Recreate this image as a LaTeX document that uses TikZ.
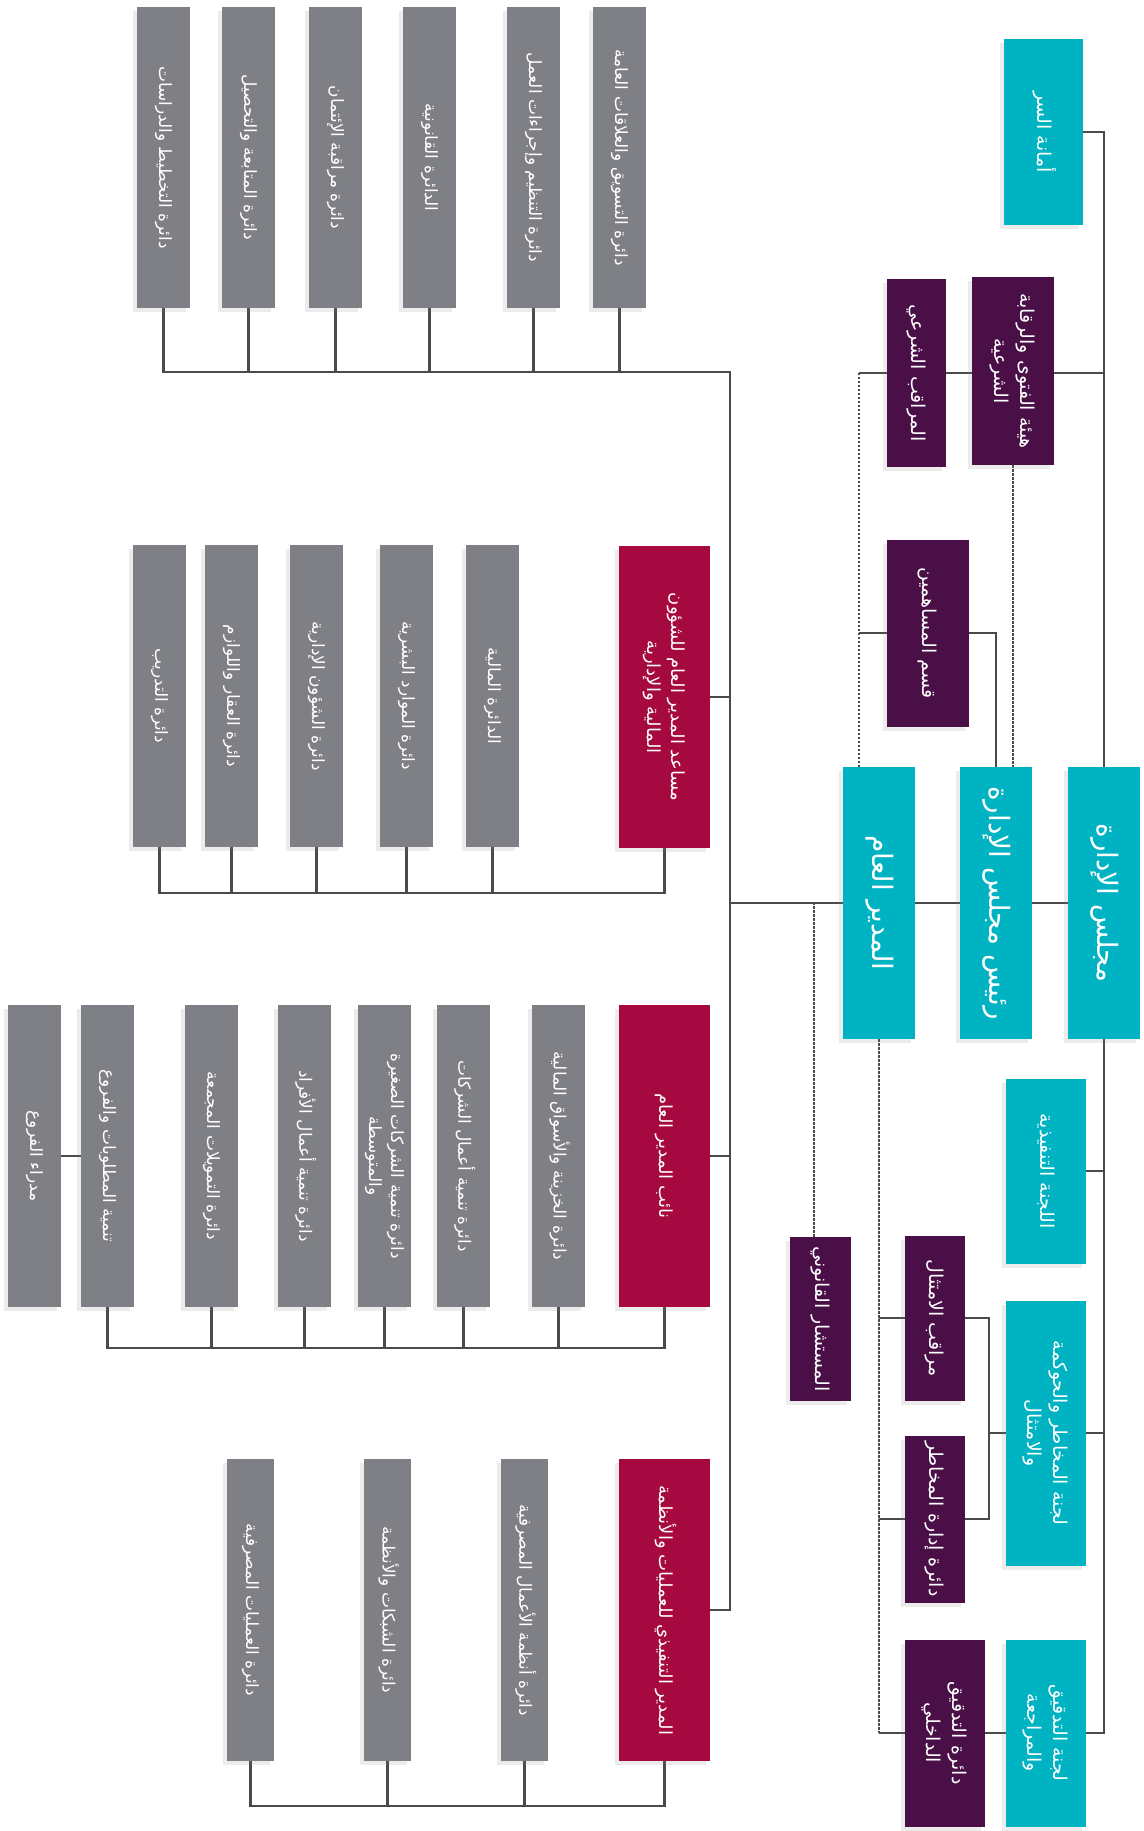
\documentclass[tikz,border=0pt]{standalone}
\usepackage{fontspec}
\usepackage{graphicx}
\usetikzlibrary{shadows}
\newfontfamily\arabicfont[Script=Arabic]{DejaVu Sans}
\TeXXeTstate=1
\definecolor{cyanb}{HTML}{00B3C2}
\definecolor{purpb}{HTML}{4A0F47}
\definecolor{crimb}{HTML}{A6093F}
\definecolor{grayb}{HTML}{7F8085}
\definecolor{linec}{HTML}{4A4A4A}
\newcommand\AR[1]{\beginR #1\endR}
\newcommand\rtxt[1]{\rotatebox{-90}{\arabicfont\begin{tabular}{@{}c@{}}#1\end{tabular}}}
\pgfdeclarelayer{bg}
\pgfdeclarelayer{paper}
\pgfsetlayers{paper,bg,main}
\begin{document}
\begin{tikzpicture}[x=0.5pt,y=-0.5pt,
  sz/.style 2 args={minimum width=#1*0.5pt, minimum height=#2*0.5pt},
  bx/.style={inner sep=0pt, text=white, drop shadow={opacity=0.15, shadow xshift=-2pt, shadow yshift=-2pt}},
  graybx/.style={bx, fill=grayb, font=\fontsize{8.5}{11}\selectfont},
  crimbx/.style={bx, fill=crimb, font=\fontsize{9}{12}\selectfont},
  cyanbx/.style={bx, fill=cyanb, font=\fontsize{9.5}{13}\selectfont},
  bigbx/.style={bx, fill=cyanb, font=\fontsize{14}{17}\selectfont},
  purpbx/.style={bx, fill=purpb, font=\fontsize{9.5}{13}\selectfont},
  conn/.style={draw=linec, line width=1.1pt},
  dconn/.style={draw=linec, line width=1.4pt, dash pattern=on 1.2pt off 0.8pt}]
\begin{pgfonlayer}{paper}
\fill[white] (0,0) rectangle (1144,1831);
\end{pgfonlayer}
\useasboundingbox (0,0) rectangle (1144,1831);

% ---------- right side ----------
\node[cyanbx, sz={79}{186}] (amana) at (1043.5,132) {\rtxt{\AR{أمانة السر}}};
\node[cyanbx, sz={80}{185}] (execcom) at (1046,1171) {\rtxt{\AR{اللجنة التنفيذية}}};
\node[cyanbx, sz={80}{265}] (riskcom) at (1046,1433) {\rtxt{\AR{لجنة المخاطر والحوكمة}\\\AR{والامتثال}}};
\node[cyanbx, sz={80}{187}] (auditcom) at (1046,1733) {\rtxt{\AR{لجنة التدقيق}\\\AR{والمراجعة}}};

\node[bigbx, sz={72}{272}] (board) at (1104,903) {\rtxt{\AR{مجلس الإدارة}}};
\node[bigbx, sz={72}{272}] (chair) at (996,903) {\rtxt{\AR{رئيس مجلس الإدارة}}};
\node[bigbx, sz={72}{272}] (gm) at (879,903) {\rtxt{\AR{المدير العام}}};

\node[purpbx, sz={82}{188}] (fatwa) at (1013,371) {\rtxt{\AR{هيئة الفتوى والرقابة}\\\AR{الشرعية}}};
\node[purpbx, sz={59}{188}] (auditor) at (916.5,373) {\rtxt{\AR{المراقب الشرعي}}};
\node[purpbx, sz={82}{187}] (share) at (928,633) {\rtxt{\AR{قسم المساهمين}}};
\node[purpbx, sz={61}{164}] (legal) at (820.5,1319) {\rtxt{\AR{المستشار القانوني}}};
\node[purpbx, sz={60}{165}] (compliance) at (935,1318) {\rtxt{\AR{مراقب الامتثال}}};
\node[purpbx, sz={60}{167}] (riskdept) at (935,1519) {\rtxt{\AR{دائرة إدارة المخاطر}}};
\node[purpbx, sz={80}{187}] (intaudit) at (945,1733) {\rtxt{\AR{دائرة التدقيق}\\\AR{الداخلي}}};

% ---------- left side ----------
\node[crimbx, sz={91}{302}] (crim2) at (664.5,697) {\rtxt{\AR{مساعد المدير العام للشؤون}\\\AR{المالية والإدارية}}};
\node[crimbx, sz={91}{302}] (crim3) at (664.5,1156) {\rtxt{\AR{نائب المدير العام}}};
\node[crimbx, sz={91}{302}] (crim4) at (664.5,1610) {\rtxt{\AR{المدير التنفيذي للعمليات والأنظمة}}};

\node[graybx, sz={53}{301}] (top1) at (163.5,157.5) {\rtxt{\AR{دائرة التخطيط والدراسات}}};
\node[graybx, sz={53}{301}] (top2) at (248.5,157.5) {\rtxt{\AR{دائرة المتابعة والتحصيل}}};
\node[graybx, sz={53}{301}] (top3) at (335.5,157.5) {\rtxt{\AR{دائرة مراقبة الإئتمان}}};
\node[graybx, sz={53}{301}] (top4) at (429.5,157.5) {\rtxt{\AR{الدائرة القانونية}}};
\node[graybx, sz={53}{301}] (top5) at (533.5,157.5) {\rtxt{\AR{دائرة التنظيم وإجراءات العمل}}};
\node[graybx, sz={53}{301}] (top6) at (619.5,157.5) {\rtxt{\AR{دائرة التسويق والعلاقات العامة}}};

\node[graybx, sz={53}{302}] (mid1) at (159.5,696) {\rtxt{\AR{دائرة التدريب}}};
\node[graybx, sz={53}{302}] (mid2) at (231.5,696) {\rtxt{\AR{دائرة العقار واللوازم}}};
\node[graybx, sz={53}{302}] (mid3) at (316.5,696) {\rtxt{\AR{دائرة الشؤون الإدارية}}};
\node[graybx, sz={53}{302}] (mid4) at (406.5,696) {\rtxt{\AR{دائرة الموارد البشرية}}};
\node[graybx, sz={53}{302}] (mid5) at (492.5,696) {\rtxt{\AR{الدائرة المالية}}};

\node[graybx, sz={53}{302}] (th1) at (34.5,1156) {\rtxt{\AR{مدراء الفروع}}};
\node[graybx, sz={53}{302}] (th2) at (107.5,1156) {\rtxt{\AR{تنمية المطلوبات والفروع}}};
\node[graybx, sz={53}{302}] (th3) at (211.5,1156) {\rtxt{\AR{دائرة التمويلات المجمعة}}};
\node[graybx, sz={53}{302}] (th4) at (304.5,1156) {\rtxt{\AR{دائرة تنمية أعمال الأفراد}}};
\node[graybx, sz={53}{302}] (th5) at (384.5,1156) {\rtxt{\AR{دائرة تنمية الشركات الصغيرة}\\\AR{والمتوسطة}}};
\node[graybx, sz={53}{302}] (th6) at (463.5,1156) {\rtxt{\AR{دائرة تنمية أعمال الشركات}}};
\node[graybx, sz={53}{302}] (th7) at (558.5,1156) {\rtxt{\AR{دائرة الخزينة والأسواق المالية}}};

\node[graybx, sz={47}{302}] (fo1) at (250.5,1610) {\rtxt{\AR{دائرة العمليات المصرفية}}};
\node[graybx, sz={47}{302}] (fo2) at (387.5,1610) {\rtxt{\AR{دائرة الشبكات والأنظمة}}};
\node[graybx, sz={47}{302}] (fo3) at (524.5,1610) {\rtxt{\AR{دائرة أنظمة الأعمال المصرفية}}};

% ---------- connectors ----------
\coordinate (rvx) at (1104,0);
\coordinate (dlx) at (859,0);
\coordinate (dly) at (879,0);
\coordinate (brx) at (989,0);
\coordinate (lvx) at (730,0);
\coordinate (lgx) at (814,0);
\coordinate (h1) at (0,372);
\coordinate (h2) at (0,893);
\coordinate (h3) at (0,1348);
\coordinate (h4) at (0,1806);

\begin{pgfonlayer}{bg}
\draw[conn] (amana.east) -- (amana.east -| rvx) -- (auditcom.east -| rvx) -- (auditcom.east);
\draw[conn] (execcom.east) -- (execcom.east -| rvx);
\draw[conn] (riskcom.east) -- (riskcom.east -| rvx);
\draw[conn] (auditor.center -| rvx) -- (auditor.center -| dlx);
\draw[dconn] (auditor.center -| dlx) -- (gm.north -| dlx);
\draw[dconn] (fatwa.south) -- (fatwa.south |- chair.north);
\draw[conn] (share.west -| dlx) -- (share.west);
\draw[conn] (share.east) -- (share.east -| chair.north) -- (chair.north);
\draw[conn] (gm.west -| lvx) -- (board.west);
\draw[dconn] (gm.south -| dly) -- (intaudit.west -| dly);
\draw[conn] (intaudit.west -| dly) -- (intaudit.west);
\draw[conn] (compliance.west -| dly) -- (compliance.west);
\draw[conn] (riskdept.west -| dly) -- (riskdept.west);
\draw[conn] (compliance.east) -- (compliance.east -| brx) -- (riskdept.east -| brx) -- (riskdept.east);
\draw[conn] (riskcom.west -| brx) -- (riskcom.west);
\draw[conn] (intaudit.east) -- (auditcom.west);
\draw[dconn] (legal.north -| lgx) -- (gm.west -| lgx);

\draw[conn] (top1.south) -- (top1.south |- h1) -- (h1 -| lvx) -- (crim4.east -| lvx) -- (crim4.east);
\foreach \n in {top2,top3,top4,top5,top6} \draw[conn] (\n.south) -- (\n.south |- h1);
\draw[conn] (crim2.east -| lvx) -- (crim2.east);
\draw[conn] (crim3.east -| lvx) -- (crim3.east);
\draw[conn] (mid1.south) -- (mid1.south |- h2) -- (crim2.south |- h2) -- (crim2.south);
\foreach \n in {mid2,mid3,mid4,mid5} \draw[conn] (\n.south) -- (\n.south |- h2);
\draw[conn] (th2.south) -- (th2.south |- h3) -- (crim3.south |- h3) -- (crim3.south);
\foreach \n in {th3,th4,th5,th6,th7} \draw[conn] (\n.south) -- (\n.south |- h3);
\draw[conn] (th1.east) -- (th2.west);
\draw[conn] (fo1.south) -- (fo1.south |- h4) -- (crim4.south |- h4) -- (crim4.south);
\foreach \n in {fo2,fo3} \draw[conn] (\n.south) -- (\n.south |- h4);
\end{pgfonlayer}
\end{tikzpicture}
\end{document}
